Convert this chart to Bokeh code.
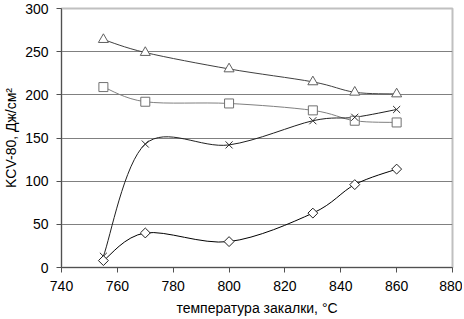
import math
from bokeh.plotting import figure
from bokeh.models import Range1d, FixedTicker
from bokeh.embed import file_html
from bokeh.resources import INLINE

temperature = [755, 770, 800, 830, 845, 860]
kcv_triangle = [264, 249, 230, 215, 203, 201]
kcv_square = [209, 192, 190, 182, 170, 168]
kcv_cross = [13, 143, 142, 170, 174, 183]
kcv_diamond = [8, 40, 30, 63, 96, 114]
x_ticks = [740, 760, 780, 800, 820, 840, 860, 880]
y_ticks = [0, 50, 100, 150, 200, 250, 300]

FONT = "Liberation Sans"


def smooth_segments(xs, ys):
    n = len(xs)
    seg = dict(x0=[], y0=[], x1=[], y1=[], cx0=[], cy0=[], cx1=[], cy1=[])
    for i in range(n - 1):
        xa, ya = (xs[i - 1], ys[i - 1]) if i > 0 else (xs[i], ys[i])
        xb, yb = (xs[i + 2], ys[i + 2]) if i + 2 < n else (xs[i + 1], ys[i + 1])
        seg["x0"].append(xs[i]); seg["y0"].append(ys[i])
        seg["x1"].append(xs[i + 1]); seg["y1"].append(ys[i + 1])
        seg["cx0"].append(xs[i] + (xs[i + 1] - xa) / 6.0)
        seg["cy0"].append(ys[i] + (ys[i + 1] - ya) / 6.0)
        seg["cx1"].append(xs[i + 1] - (xb - xs[i]) / 6.0)
        seg["cy1"].append(ys[i + 1] - (yb - ys[i]) / 6.0)
    return seg


p = figure(width=462, height=318, output_backend="svg", toolbar_location=None,
           x_range=Range1d(740, 880), y_range=Range1d(0, 300),
           min_border_left=56, min_border_right=10, min_border_top=8,
           min_border_bottom=51)
p.background_fill_color = "white"
p.border_fill_color = "white"
p.outline_line_color = "#c0c0c0"
p.outline_line_width = 2

p.xgrid.visible = False
p.ygrid.grid_line_color = "#808080"
p.ygrid.grid_line_width = 1

p.xaxis.ticker = FixedTicker(ticks=x_ticks)
p.yaxis.ticker = FixedTicker(ticks=y_ticks)
for ax in (p.xaxis, p.yaxis):
    ax.axis_line_color = "#505050"
    ax.major_tick_line_color = "#505050"
    ax.minor_tick_line_color = None
    ax.major_tick_in = 0
    ax.major_tick_out = 5
    ax.major_label_text_font = FONT
    ax.major_label_text_font_size = "14px"
    ax.major_label_text_color = "black"
    ax.axis_label_text_font = FONT
    ax.axis_label_text_font_size = "14px"
    ax.axis_label_text_font_style = "normal"
    ax.axis_label_text_color = "black"

p.xaxis.axis_label = "температура закалки, °C"
p.yaxis.axis_label = "KCV-80, Дж/см²"
p.xaxis.major_label_standoff = 8
p.xaxis.axis_label_standoff = 6
p.yaxis.major_label_standoff = 8
p.yaxis.axis_label_standoff = 3

series = [
    (kcv_triangle, "triangle", 0.0, "#404040", "#606060", 10),
    (kcv_square, "square", 0.0, "#808080", "#707070", 9),
    (kcv_cross, "x", 0.0, "#202020", "#303030", 10),
    (kcv_diamond, "square", math.pi / 4, "#000000", "#202020", 7),
]
for ys, marker, ang, lcol, mcol, size in series:
    seg = smooth_segments(temperature, ys)
    p.bezier(x0=seg["x0"], y0=seg["y0"], x1=seg["x1"], y1=seg["y1"],
             cx0=seg["cx0"], cy0=seg["cy0"], cx1=seg["cx1"], cy1=seg["cy1"],
             line_color=lcol, line_width=1)
for ys, marker, ang, lcol, mcol, size in series:
    p.scatter(temperature, ys, marker=marker, size=size, angle=ang,
              line_color=mcol, fill_color="white", line_width=1)

open("out.html", "w").write(file_html(p, INLINE))
